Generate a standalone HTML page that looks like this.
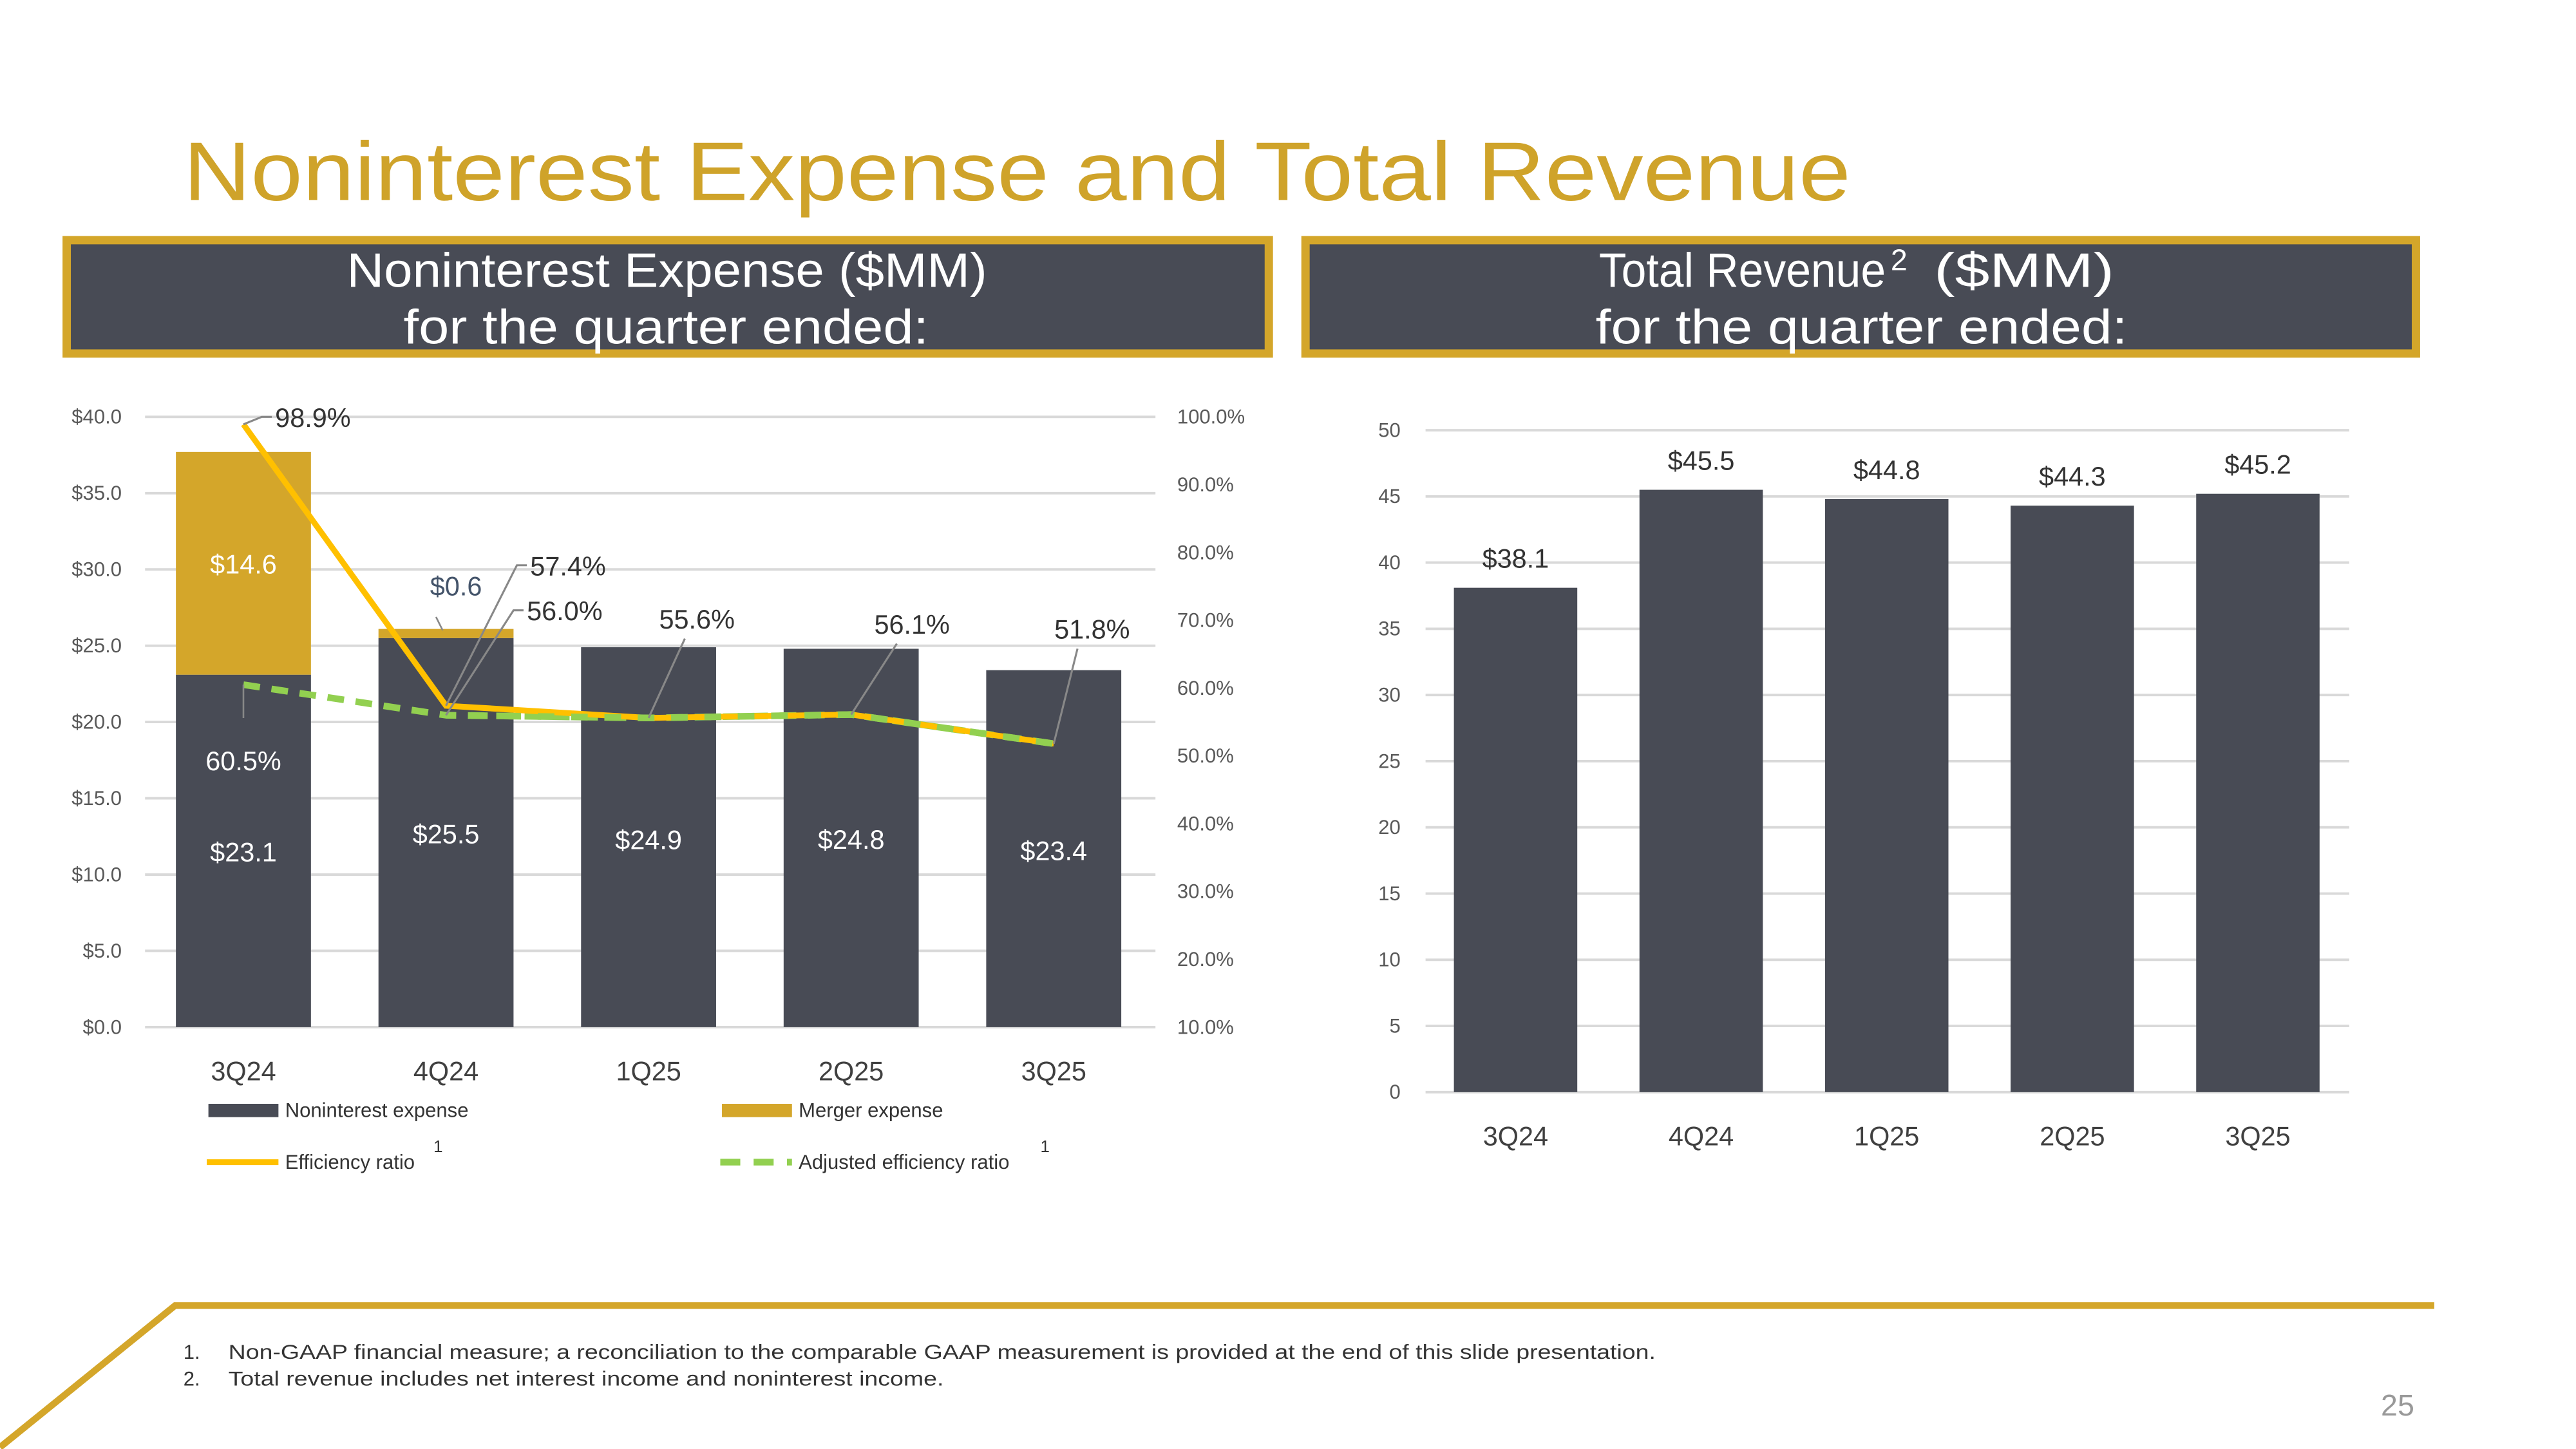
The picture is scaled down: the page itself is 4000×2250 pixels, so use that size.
<!DOCTYPE html>
<html><head><meta charset="utf-8"><style>
html,body{margin:0;padding:0;background:#fff;}
svg{display:block;}
text{font-family:"Liberation Sans",sans-serif;}
</style></head><body>
<svg id="s" width="4000" height="2250" viewBox="0 0 1545 869" xmlns="http://www.w3.org/2000/svg">
<text x="110" y="120" font-size="50" fill="#CFA32A" textLength="1000" lengthAdjust="spacingAndGlyphs">Noninterest Expense and Total Revenue</text>
<g>
<rect x="40" y="144" width="721" height="68" fill="#484B55" stroke="#D4A62A" stroke-width="5"/>
<text x="208" y="172" font-size="29" fill="#fff" textLength="384" lengthAdjust="spacingAndGlyphs">Noninterest Expense ($MM)</text>
<text x="242" y="206" font-size="29" fill="#fff" textLength="315" lengthAdjust="spacingAndGlyphs">for the quarter ended:</text>
</g>
<g>
<rect x="783" y="144" width="666" height="68" fill="#484B55" stroke="#D4A62A" stroke-width="5"/>
<text x="959" y="172" font-size="29" fill="#fff" textLength="172" lengthAdjust="spacingAndGlyphs">Total Revenue</text>
<text x="1134" y="162" font-size="18" fill="#fff">2</text>
<text x="1160" y="172" font-size="29" fill="#fff" textLength="108" lengthAdjust="spacingAndGlyphs">($MM)</text>
<text x="957" y="206" font-size="29" fill="#fff" textLength="319" lengthAdjust="spacingAndGlyphs">for the quarter ended:</text>
</g>
<g id="left"></g>
<g id="right"></g>
<g>
<polyline points="0,868 105,783 1460,783" fill="none" stroke="#D4A62A" stroke-width="4"/>
<text x="110" y="815" font-size="12" fill="#333">1.</text>
<text x="137" y="815" font-size="12" fill="#333" textLength="856" lengthAdjust="spacingAndGlyphs">Non-GAAP financial measure; a reconciliation to the comparable GAAP measurement is provided at the end of this slide presentation.</text>
<text x="110" y="831" font-size="12" fill="#333">2.</text>
<text x="137" y="831" font-size="12" fill="#333" textLength="429" lengthAdjust="spacingAndGlyphs">Total revenue includes net interest income and noninterest income.</text>
<text x="1448" y="849" font-size="18" fill="#999" text-anchor="end">25</text>
</g>
</svg>
<script>
const cats=['3Q24','4Q24','1Q25','2Q25','3Q25'];
const nonint=[23.1,25.5,24.9,24.8,23.4];
const merger=[14.6,0.6,0,0,0];
const eff=[98.9,57.4,55.6,56.1,51.8];
const adjEff=[60.5,56.0,55.6,56.1,51.8];
const revenue=[38.1,45.5,44.8,44.3,45.2];
const leftTicks=['$0.0','$5.0','$10.0','$15.0','$20.0','$25.0','$30.0','$35.0','$40.0'];
const rightTicks=['10.0%','20.0%','30.0%','40.0%','50.0%','60.0%','70.0%','80.0%','90.0%','100.0%'];
const revTicks=['0','5','10','15','20','25','30','35','40','45','50'];
const NS='http://www.w3.org/2000/svg';
function mk(p,t,a,txt){const e=document.createElementNS(NS,t);for(const k in a)e.setAttribute(k,a[k]);if(txt!==undefined)e.textContent=txt;p.appendChild(e);return e;}
const L=document.getElementById('left');
const lx=i=>146+i*121.5, ly=v=>616-v*366/40, ry=v=>616-(v-10)*366/90;
leftTicks.forEach((t,i)=>{const y=ly(i*5);
 const g=mk(L,'line',{x1:87,x2:693,y1:y,y2:y,stroke:'#D9D9D9','stroke-width':1.5});
 
 const tx=mk(L,'text',{x:73,y:y+4,'font-size':12,fill:'#595959','text-anchor':'end'},t);
 });
rightTicks.forEach((t,i)=>{const tx=mk(L,'text',{x:706,y:ry(10+i*10)+4,'font-size':12,fill:'#595959'},t);
 });
const lblOff=[112,123,121,120,114];
cats.forEach((c,i)=>{const x=lx(i);
 const b=mk(L,'rect',{x:x-40.5,y:ly(nonint[i]),width:81,height:ly(0)-ly(nonint[i]),fill:'#484B55'});
 
 if(merger[i]>0){const m=mk(L,'rect',{x:x-40.5,y:ly(nonint[i]+merger[i]),width:81,height:ly(nonint[i])-ly(nonint[i]+merger[i]),fill:'#D4A62A'});
  }
 const cl=mk(L,'text',{x:x,y:648,'font-size':16,fill:'#404040','text-anchor':'middle'},c);
 
 const vl=mk(L,'text',{x:x,y:ly(nonint[i])+lblOff[i],'font-size':16,fill:'#fff','text-anchor':'middle'},'$'+nonint[i].toFixed(1));
 
});
let t=mk(L,'text',{x:lx(0),y:ly(nonint[0]+merger[0]/2)+6,'font-size':16,fill:'#fff','text-anchor':'middle'},'$'+merger[0].toFixed(1));

t=mk(L,'text',{x:lx(1)+6,y:357,'font-size':16,fill:'#44546A','text-anchor':'middle'},'$'+merger[1].toFixed(1));

mk(L,'line',{x1:lx(1)-2,y1:378,x2:lx(1)-6,y2:370,stroke:'#888'});
const adj=mk(L,'polyline',{points:adjEff.map((v,i)=>lx(i)+','+ry(v)).join(' '),fill:'none',stroke:'#92D050','stroke-width':4,'stroke-dasharray':'10 7'});

const ef=mk(L,'polyline',{points:eff.map((v,i)=>lx(i)+','+ry(v)).join(' '),fill:'none',stroke:'#FFC000','stroke-width':3.5});

const adj2=mk(L,'polyline',{points:adjEff.slice(1).map((v,i)=>lx(i+1)+','+ry(v)).join(' '),fill:'none',stroke:'#92D050','stroke-width':4,'stroke-dasharray':'10 10','stroke-dashoffset':'5'});

const lab=[[eff[0],lx(0),ry(eff[0]),165,250,0],[eff[1],lx(1),ry(eff[1]),318,339,0],[adjEff[1],lx(1),ry(adjEff[1]),316,366,0],[eff[2],lx(2),ry(eff[2]),418,371,1],[eff[3],lx(3),ry(eff[3]),547,374,1],[eff[4],lx(4),ry(eff[4]),655,377,1]];
lab.forEach(([v,px,py,tx,ty,mid],k)=>{
 if(mid){mk(L,'line',{x1:px,y1:py,x2:px+(tx-px)*0.75+(k==5?-3:0),y2:ty+12,stroke:'#888','stroke-width':1.2});}
 else mk(L,'polyline',{points:px+','+py+' '+(tx-8)+','+ty+' '+(tx-2)+','+ty,fill:'none',stroke:'#888','stroke-width':1.2});
 const e=mk(L,'text',{x:tx,y:ty+6,'font-size':16,fill:'#333','text-anchor':mid?'middle':'start'},v.toFixed(1)+'%');
 });
mk(L,'line',{x1:lx(0),y1:ry(adjEff[0]),x2:lx(0),y2:ry(adjEff[0])+20,stroke:'#888'});
t=mk(L,'text',{x:lx(0),y:462,'font-size':16,fill:'#fff','text-anchor':'middle'},adjEff[0].toFixed(1)+'%');

const lg=mk(L,'g',{});

mk(lg,'rect',{x:125,y:662,width:42,height:8,fill:'#484B55'});mk(lg,'text',{x:171,y:670,'font-size':12,fill:'#333'},'Noninterest expense');
mk(lg,'rect',{x:433,y:662,width:42,height:8,fill:'#D4A62A'});mk(lg,'text',{x:479,y:670,'font-size':12,fill:'#333'},'Merger expense');
mk(lg,'line',{x1:124,x2:167,y1:697,y2:697,stroke:'#FFC000','stroke-width':3.5});
mk(lg,'text',{x:171,y:701,'font-size':12,fill:'#333'},'Efficiency ratio');mk(lg,'text',{x:260,y:691,'font-size':10,fill:'#333'},'1');
mk(lg,'line',{x1:432,x2:475,y1:697,y2:697,stroke:'#92D050','stroke-width':4,'stroke-dasharray':'12 8'});
mk(lg,'text',{x:479,y:701,'font-size':12,fill:'#333'},'Adjusted efficiency ratio');mk(lg,'text',{x:624,y:691,'font-size':10,fill:'#333'},'1');
const R=document.getElementById('right');
const rx=i=>909+i*111.3, rvy=v=>655-v*397/50;
revTicks.forEach((tk,i)=>{const y=rvy(i*5);
 const g=mk(R,'line',{x1:855,x2:1409,y1:y,y2:y,stroke:'#D9D9D9','stroke-width':1.5});
 
 const tx=mk(R,'text',{x:840,y:y+4,'font-size':12,fill:'#595959','text-anchor':'end'},tk);
 });
cats.forEach((c,i)=>{const x=rx(i);
 const b=mk(R,'rect',{x:x-37,y:rvy(revenue[i]),width:74,height:rvy(0)-rvy(revenue[i]),fill:'#484B55'});
 
 const vl=mk(R,'text',{x:x,y:rvy(revenue[i])-12,'font-size':16,fill:'#333','text-anchor':'middle'},'$'+revenue[i].toFixed(1));
 
 const cl=mk(R,'text',{x:x,y:687,'font-size':16,fill:'#404040','text-anchor':'middle'},c);
 });
</script>
</body></html>
